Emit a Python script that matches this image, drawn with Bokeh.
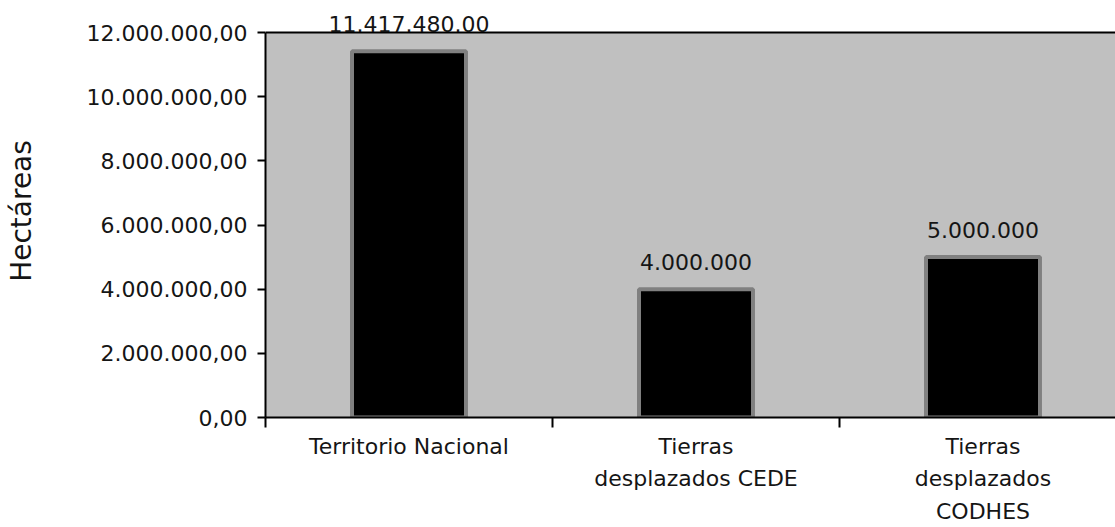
from bokeh.plotting import figure
from bokeh.models import Range1d, FixedTicker, ColumnDataSource, LabelSet, BoxAnnotation, Span
from bokeh.core.properties import value
from bokeh.embed import file_html
from bokeh.resources import INLINE

# Data
categories = ["Territorio Nacional", "Tierras\ndesplazados CEDE", "Tierras\ndesplazados\nCODHES"]
values = [11417480, 4000000, 5000000]
value_labels = ["11.417.480.00", "4.000.000", "5.000.000"]
y_ticks = [0, 2000000, 4000000, 6000000, 8000000, 10000000, 12000000]
y_tick_labels = ["0,00", "2.000.000,00", "4.000.000,00", "6.000.000,00",
                 "8.000.000,00", "10.000.000,00", "12.000.000,00"]

FONT = "DejaVu Sans"
TXT = "#151515"

xs = [i + 0.5 for i in range(len(categories))]
src = ColumnDataSource(data=dict(x=xs, top=values, lab=value_labels))

y_max = y_ticks[-1]
x_end = 850 / 287
y_end = y_max * 413 / 385  # headroom above the plot box for the first value label

p = figure(width=1115, height=527, output_backend="svg", toolbar_location=None,
           x_range=Range1d(0, x_end), y_range=Range1d(0, y_end),
           min_border_left=265, min_border_right=0, min_border_top=4,
           min_border_bottom=110)
p.border_fill_color = "white"
p.background_fill_color = "white"
p.outline_line_color = None
p.xgrid.visible = False
p.ygrid.visible = False

# gray plot box from 0 to the top tick
p.add_layout(BoxAnnotation(bottom=0, top=y_max, fill_color="#C0C0C0", fill_alpha=1,
                           line_color=None, level="underlay"))
p.add_layout(Span(location=y_max, dimension="width", line_color="black", line_width=2))

p.vbar(x="x", top="top", bottom=0, width=0.397, source=src,
       fill_color="black", line_color="#808080", line_width=4)

labels = LabelSet(x="x", y="top", text="lab", source=src, y_offset=19,
                  text_align="center", text_baseline="alphabetic",
                  text_font=value(FONT), text_font_size="22px", text_color=TXT)
p.add_layout(labels)

# Y axis
ya = p.yaxis[0]
ya.bounds = (0, y_max)
ya.ticker = FixedTicker(ticks=y_ticks, minor_ticks=[])
ya.major_label_overrides = {t: l for t, l in zip(y_ticks, y_tick_labels)}
ya.major_label_text_font = FONT
ya.major_label_text_font_size = "22px"
ya.major_label_text_color = TXT
ya.major_tick_out = 8
ya.major_tick_in = 0
ya.major_tick_line_width = 2
ya.major_tick_line_color = "black"
ya.major_label_standoff = 10
ya.axis_line_width = 2
ya.axis_line_color = "black"
ya.axis_label = "Hectáreas"
ya.axis_label_text_font = FONT
ya.axis_label_text_font_size = "28px"
ya.axis_label_text_font_style = "normal"
ya.axis_label_text_color = TXT
ya.axis_label_standoff = 46

# X axis
xa = p.xaxis[0]
xa.ticker = FixedTicker(ticks=xs, minor_ticks=[0, 1, 2, 3])
xa.major_label_overrides = {x: c for x, c in zip(xs, categories)}
xa.major_label_text_font = FONT
xa.major_label_text_font_size = "22px"
xa.major_label_text_color = TXT
xa.major_label_text_line_height = 1.3
xa.major_label_standoff = 6
xa.major_tick_out = 0
xa.major_tick_in = 0
xa.minor_tick_out = 10
xa.minor_tick_in = 0
xa.minor_tick_line_width = 2
xa.minor_tick_line_color = "black"
xa.axis_line_width = 2
xa.axis_line_color = "black"

open("out.html", "w").write(file_html(p, INLINE))
